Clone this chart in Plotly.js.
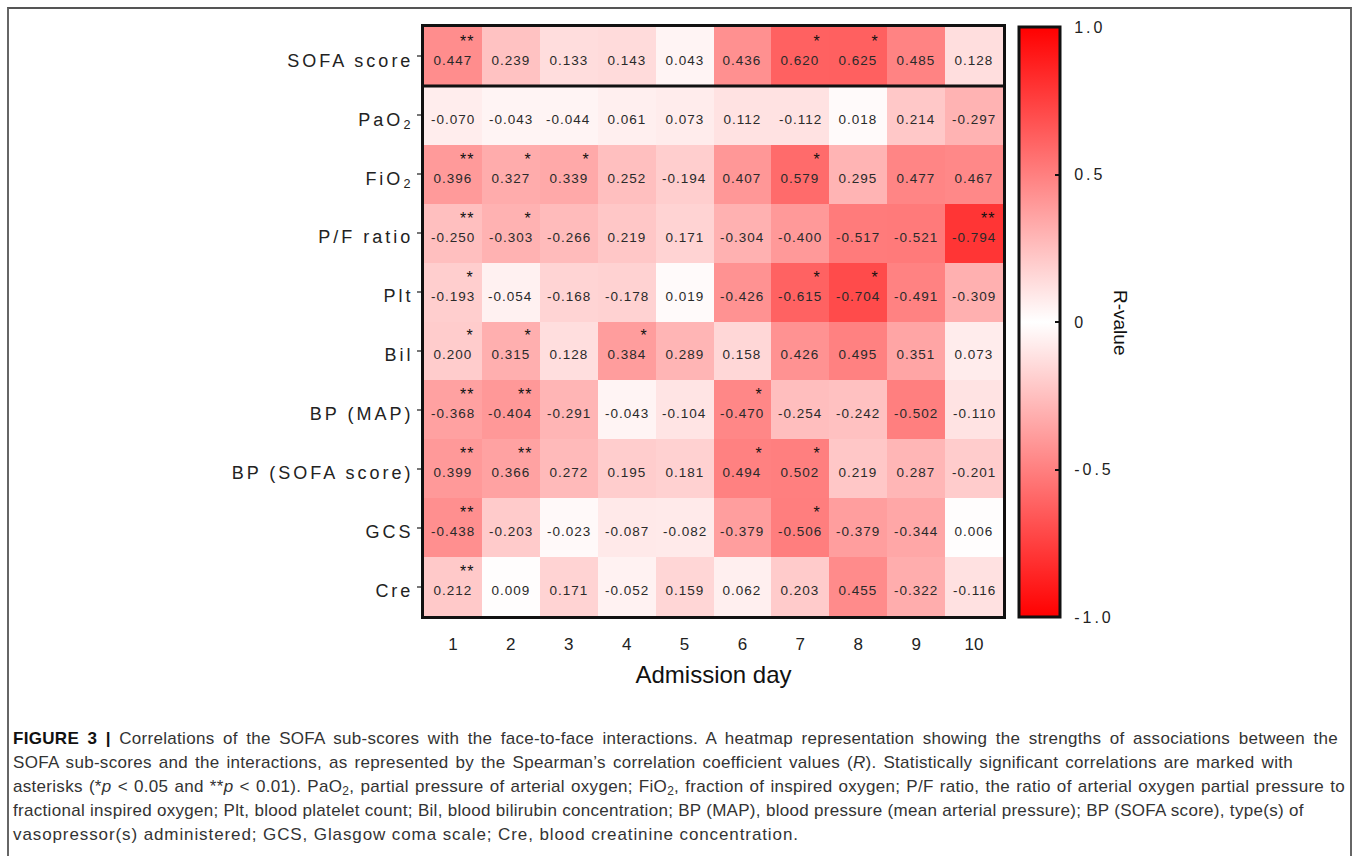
<!DOCTYPE html>
<html>
<head>
<meta charset="utf-8">
<script src="https://cdn.plot.ly/plotly-3.0.1.min.js"></script>
<style>
  html, body { margin: 0; padding: 0; background: #fff; }
  #wrap { position: relative; width: 1358px; height: 856px; overflow: hidden; }
  #chart { position: absolute; left: 0; top: 0; width: 1358px; height: 856px; }
  #frame { position: absolute; left: 7px; top: 7px; width: 1341px; height: 900px;
           border-left: 2px solid #666; border-top: 2px solid #555; border-right: 2px solid #666;
           pointer-events: none; }
  #caption { position: absolute; left: 13px; top: 727px;
             font-family: "Liberation Sans", Arial, sans-serif;
             font-size: 17px; letter-spacing: 0.3px; line-height: 24px; color: #333; white-space: nowrap; }
  #caption .ln { display: block; height: 24px; text-align: justify; text-align-last: justify; }
  #caption .last { text-align: left; text-align-last: left; letter-spacing: 0.9px; }
  #caption b { color: #111; }
  #caption sub { font-size: 12px; line-height: 0; vertical-align: -3px; }
  .ytick text { letter-spacing: 3px; }
</style>
</head>
<body>
<div id="wrap">
  <div id="chart"></div>
  <div id="frame"></div>
  <div id="caption">
    <span class="ln" style="width:1325px"><b>FIGURE 3 |</b> Correlations of the SOFA sub-scores with the face-to-face interactions. A heatmap representation showing the strengths of associations between the</span>
    <span class="ln" style="width:1280px">SOFA sub-scores and the interactions, as represented by the Spearman’s correlation coefficient values (<i>R</i>). Statistically significant correlations are marked with</span>
    <span class="ln" style="width:1332px">asterisks (*<i>p</i> &lt; 0.05 and **<i>p</i> &lt; 0.01). PaO<sub>2</sub>, partial pressure of arterial oxygen; FiO<sub>2</sub>, fraction of inspired oxygen; P/F ratio, the ratio of arterial oxygen partial pressure to</span>
    <span class="ln" style="width:1281px">fractional inspired oxygen; Plt, blood platelet count; Bil, blood bilirubin concentration; BP (MAP), blood pressure (mean arterial pressure); BP (SOFA score), type(s) of</span>
    <span class="ln last">vasopressor(s) administered; GCS, Glasgow coma scale; Cre, blood creatinine concentration.</span>
  </div>
</div>
<script>
// ---- data ----
const days = [1, 2, 3, 4, 5, 6, 7, 8, 9, 10];
const rowLabels = ["SOFA score", "PaO<sub>2</sub>", "FiO<sub>2</sub>", "P/F ratio", "Plt", "Bil",
                   "BP (MAP)", "BP (SOFA score)", "GCS", "Cre"];
const sofaScore = [0.447, 0.239, 0.133, 0.143, 0.043, 0.436, 0.620, 0.625, 0.485, 0.128];
const pao2      = [-0.070, -0.043, -0.044, 0.061, 0.073, 0.112, -0.112, 0.018, 0.214, -0.297];
const fio2      = [0.396, 0.327, 0.339, 0.252, -0.194, 0.407, 0.579, 0.295, 0.477, 0.467];
const pfRatio   = [-0.250, -0.303, -0.266, 0.219, 0.171, -0.304, -0.400, -0.517, -0.521, -0.794];
const plt       = [-0.193, -0.054, -0.168, -0.178, 0.019, -0.426, -0.615, -0.704, -0.491, -0.309];
const bil       = [0.200, 0.315, 0.128, 0.384, 0.289, 0.158, 0.426, 0.495, 0.351, 0.073];
const bpMap     = [-0.368, -0.404, -0.291, -0.043, -0.104, -0.470, -0.254, -0.242, -0.502, -0.110];
const bpSofa    = [0.399, 0.366, 0.272, 0.195, 0.181, 0.494, 0.502, 0.219, 0.287, -0.201];
const gcs       = [-0.438, -0.203, -0.023, -0.087, -0.082, -0.379, -0.506, -0.379, -0.344, 0.006];
const cre       = [0.212, 0.009, 0.171, -0.052, 0.159, 0.062, 0.203, 0.455, -0.322, -0.116];

const sigSofaScore = ["**", "", "", "", "", "", "*", "*", "", ""];
const sigPao2      = ["", "", "", "", "", "", "", "", "", ""];
const sigFio2      = ["**", "*", "*", "", "", "", "*", "", "", ""];
const sigPfRatio   = ["**", "*", "", "", "", "", "", "", "", "**"];
const sigPlt       = ["*", "", "", "", "", "", "*", "*", "", ""];
const sigBil       = ["*", "*", "", "*", "", "", "", "", "", ""];
const sigBpMap     = ["**", "**", "", "", "", "*", "", "", "", ""];
const sigBpSofa    = ["**", "**", "", "", "", "*", "*", "", "", ""];
const sigGcs       = ["**", "", "", "", "", "", "*", "", "", ""];
const sigCre       = ["**", "", "", "", "", "", "", "", "", ""];

const cbTickVals = [-1, -0.5, 0, 0.5, 1];
const cbTickText = ["-1.0", "-0.5", "0", "0.5", "1.0"];

// ---- build ----
const z = [sofaScore, pao2, fio2, pfRatio, plt, bil, bpMap, bpSofa, gcs, cre];
const sig = [sigSofaScore, sigPao2, sigFio2, sigPfRatio, sigPlt, sigBil, sigBpMap, sigBpSofa, sigGcs, sigCre];

const W = 1358, H = 856;
const L = 424, R = 1003, T = 27, B = 616;
const px2x = px => (px - L) / (R - L);
const py2y = py => (B - py) / (B - T);
const FONT = 'Liberation Sans, Arial, sans-serif';

const annotations = [];
z.forEach((row, i) => {
  row.forEach((v, j) => {
    annotations.push({
      x: days[j], y: rowLabels[i], xref: 'x', yref: 'y',
      text: v.toFixed(3), showarrow: false, yshift: -4,
      font: {family: FONT, size: 13.5, color: '#2a2a2a'}
    });
    if (sig[i][j]) {
      annotations.push({
        x: days[j], y: rowLabels[i], xref: 'x', yref: 'y',
        text: sig[i][j], showarrow: false, xanchor: 'right', xshift: 22, yshift: 15,
        font: {family: FONT, size: 16, color: '#111'}
      });
    }
  });
});
annotations.push({
  xref: 'paper', yref: 'paper', x: px2x(1121), y: py2y(322), xanchor: 'center', yanchor: 'middle',
  text: 'R-value', textangle: 90, showarrow: false,
  font: {family: FONT, size: 19, color: '#111'}
});

const trace = {
  type: 'heatmap',
  x: days, y: rowLabels, z: z,
  zmin: -1, zmax: 1,
  colorscale: [[0, '#ff0000'], [0.5, '#ffffff'], [1, '#ff0000']],
  hoverinfo: 'x+y+z',
  colorbar: {
    x: px2x(1019), xanchor: 'left', xpad: 0, ypad: 0,
    y: py2y(322), yanchor: 'middle',
    thickness: 41, len: 590, lenmode: 'pixels',
    outlinewidth: 3, outlinecolor: '#111',
    tickvals: cbTickVals, ticktext: cbTickText,
    ticks: 'inside', ticklen: 6, tickwidth: 2, tickcolor: '#111',
    tickfont: {family: FONT, size: 16, color: '#222'}
  }
};

const layout = {
  width: W, height: H,
  margin: {l: L, r: W - R, t: T, b: H - B, pad: 0},
  paper_bgcolor: 'rgba(0,0,0,0)', plot_bgcolor: '#fff',
  showlegend: false,
  xaxis: {
    range: [0.5, 10.5], dtick: 1, tick0: 1, showgrid: false, zeroline: false,
    showline: true, mirror: true, linewidth: 3, linecolor: '#111',
    ticks: '', ticklabelstandoff: 11,
    tickfont: {family: FONT, size: 17, color: '#222'},
    title: {text: 'Admission day', standoff: 13,
            font: {family: FONT, size: 24, color: '#111'}},
    automargin: false, fixedrange: true
  },
  yaxis: {
    autorange: 'reversed', showgrid: false, zeroline: false,
    showline: true, mirror: true, linewidth: 3, linecolor: '#111',
    ticks: 'outside', ticklen: 4, tickwidth: 1.5, tickcolor: '#777',
    ticklabelstandoff: 0,
    tickfont: {family: FONT, size: 18, color: '#222'},
    automargin: false, fixedrange: true
  },
  shapes: [{
    type: 'line', xref: 'paper', yref: 'y', x0: 0, x1: 1, y0: 0.5, y1: 0.5,
    line: {color: '#111', width: 3}
  }],
  annotations: annotations
};

Plotly.newPlot('chart', [trace], layout, {displayModeBar: false, responsive: false}).then(gd => {
  gd.querySelectorAll('.annotation-text').forEach(t => {
    if (/^[-0-9.*]+$/.test(t.textContent.trim())) t.style.letterSpacing = '1px';
  });
  gd.querySelectorAll('.yaxislayer-above .ytick text').forEach(t => t.setAttribute('dy', '4'));
  gd.querySelectorAll('.colorbar .tick text, .colorbar [class*="tick"] text').forEach(t => {
    t.style.letterSpacing = '3px';
    t.setAttribute('dx', '9');
  });
});
</script>
</body>
</html>
